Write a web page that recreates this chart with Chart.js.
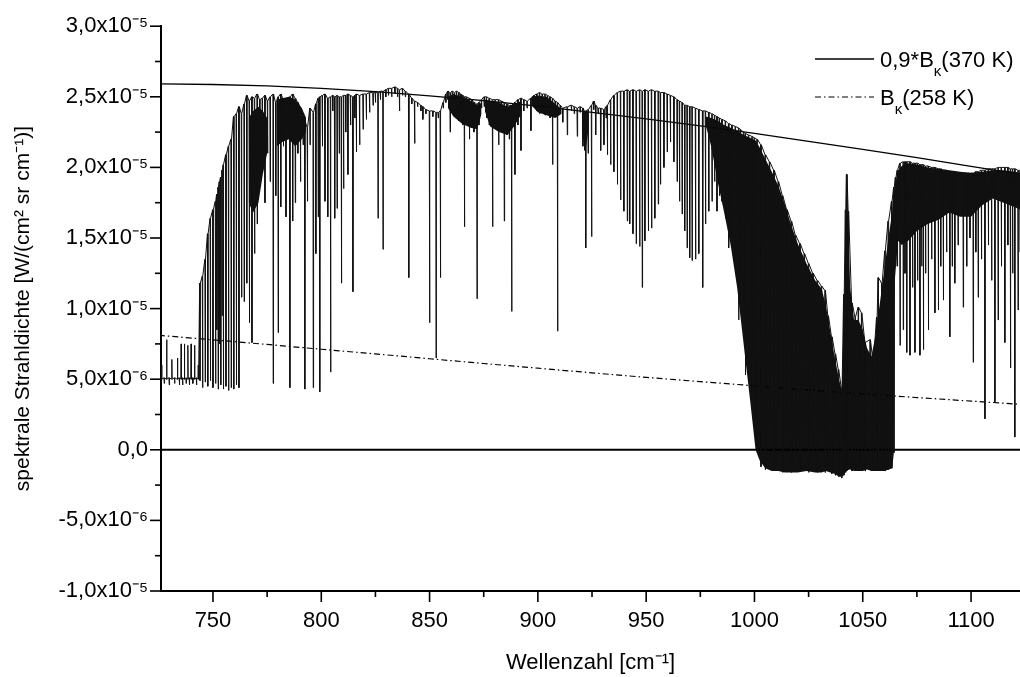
<!DOCTYPE html>
<html>
<head>
<meta charset="utf-8">
<script src="https://cdn.jsdelivr.net/npm/chart.js@4.4.1/dist/chart.umd.min.js"></script>
<style>
  html, body { margin: 0; padding: 0; background: #ffffff; }
  #wrap { width: 1020px; height: 677px; }
</style>
</head>
<body>
<div id="wrap"><canvas id="c" width="1020" height="677"></canvas></div>
<script>
// ---- values are in units of 1e-6 W/(cm² sr cm⁻¹) ----
// Axis ticks
const xTicks = [750, 775, 800, 825, 850, 875, 900, 925, 950, 975, 1000, 1025, 1050, 1075, 1100];
const xTickLabels = ['750', '', '800', '', '850', '', '900', '', '950', '', '1000', '', '1050', '', '1100'];
const yTicks = [-10, -7.5, -5, -2.5, 0, 2.5, 5, 7.5, 10, 12.5, 15, 17.5, 20, 22.5, 25, 27.5, 30];
const yTickLabels = ['-1,0x10\u207B\u2075', '', '-5,0x10\u207B\u2076', '', '0,0', '', '5,0x10\u207B\u2076', '',
  '1,0x10\u207B\u2075', '', '1,5x10\u207B\u2075', '', '2,0x10\u207B\u2075', '', '2,5x10\u207B\u2075', '', '3,0x10\u207B\u2075'];

// Reference curves
const planckNu  = [725, 750, 775, 800, 825, 850, 875, 900, 925, 950, 975, 1000, 1025, 1050, 1075, 1100, 1125];
const planck370 = [25.91, 25.87, 25.77, 25.60, 25.36, 25.07, 24.73, 24.34, 23.90, 23.44, 22.94, 22.41, 21.85, 21.28, 20.69, 20.08, 19.46];
const planck258 = [8.11, 7.79, 7.46, 7.12, 6.79, 6.45, 6.11, 5.78, 5.45, 5.13, 4.83, 4.53, 4.24, 3.96, 3.70, 3.45, 3.20];
const zeroNu = [726, 1123];
const zeroVal = [0, 0];

// Measured spectrum: each entry [wavenumber, level before/after, extreme of the line]
const specA = [[726.3,5.0,6.0],[727.5,5.1,4.7],[728.6,5.0,7.8],[729.8,5.1,4.6],[731.0,5.0,6.4],[732.3,5.1,4.7],[733.6,5.0,6.5],[734.5,5.1,4.6],[735.3,5.0,7.5],[736.0,5.1,4.6],[736.8,5.0,7.5],[737.6,5.1,4.7],[738.4,5.0,7.4],[739.1,5.1,4.6],[739.9,5.0,7.5],[740.7,5.1,4.7],[741.5,5.0,7.4],[742.4,5.1,4.6],[743.2,5.0,6.0]];
const specB = [[744.0,11.8,4.9],[745.2,12.3,4.4],[746.4,13.5,4.8],[747.6,15.3,4.5],[748.8,16.4,4.9],[750.0,17.0,4.4],[751.2,17.6,4.7],[751.8,18.1,8.5],[752.4,18.6,4.3],[753.0,19.0,7.5],[753.6,19.3,4.6],[754.2,19.8,9.5],[754.8,20.2,4.3],[756.0,20.9,4.5],[757.2,21.5,4.2],[758.4,22.0,4.4],[759.6,23.6,4.3],[760.8,23.8,4.6],[762.0,24.3,4.4],[763.2,23.8,10.8],[764.4,24.5,10.5],[765.6,25.1,11.8],[766.8,24.7,9.0],[768.0,25.0,7.6],[769.2,24.9,13.9],[770.4,25.2,16.0],[771.6,24.8,19.5],[772.8,24.9,20.5],[774.0,25.1,17.5],[775.2,24.7,21.0],[776.4,25.0,19.0],[777.8,25.2,4.7],[779.0,24.6,18.0],[780.1,25.0,8.3],[781.3,25.2,17.2],[782.5,24.8,21.5],[783.7,24.5,16.5],[785.5,25.0,4.4],[786.8,25.2,16.2],[788.0,24.9,17.5],[789.2,24.6,21.0],[790.4,24.2,19.0],[791.6,23.5,21.6],[792.4,23.3,4.3],[793.6,22.8,17.6],[794.8,24.2,21.6],[796.3,23.9,4.4],[797.5,24.5,13.9],[798.6,24.9,16.5],[799.3,25.0,4.1],[800.5,25.1,21.5],[801.7,25.2,17.6],[803.0,24.9,16.5],[804.3,25.0,5.5]];
const specC = [[805.3,25.1,24.0],[806.2,25.0,16.4],[807.3,25.1,17.1],[808.3,25.0,21.0],[809.3,25.0,11.8],[810.3,25.1,18.5],[811.3,25.1,22.5],[812.3,25.2,19.5],[813.5,25.1,23.0],[814.6,25.0,11.2],[815.5,25.1,23.5],[816.2,25.2,21.1],[817.7,25.1,21.6],[819.3,25.2,22.7],[820.8,25.2,23.4],[822.3,25.3,23.9],[823.9,25.3,24.4],[825.0,25.3,24.6],[826.2,25.3,16.4],[827.3,25.4,24.8],[828.5,25.4,14.2],[829.8,25.5,25.0],[831.0,25.6,25.1],[832.5,25.6,25.0],[834.0,25.7,25.2],[835.2,25.6,25.0],[836.1,25.5,24.0],[837.5,25.6,25.1],[838.8,25.4,25.0],[840.4,25.2,12.2],[841.8,24.9,24.5],[843.1,24.7,21.7],[844.5,24.6,24.3],[846.0,24.4,24.0],[846.9,24.3,23.4],[848.3,24.1,23.8],[850.0,24.0,9.0],[851.5,24.0,23.6],[853.0,23.9,6.5],[854.0,23.9,23.5],[855.0,24.0,12.2],[856.3,24.6,24.2],[857.5,25.2,24.6],[858.5,25.4,24.8],[859.5,25.3,22.5]];
const specD = [[860.5,25.4,24.5],[861.5,25.3,23.7],[862.5,25.4,24.0],[863.5,25.3,23.3],[864.5,25.2,23.8],[865.3,25.1,23.0],[866.1,25.0,15.8],[867.0,25.0,23.2],[868.4,24.9,22.0],[869.5,24.8,22.8],[870.5,24.6,22.5],[871.9,24.5,10.7],[872.8,24.6,23.0],[874.0,24.8,24.2],[875.2,25.0,24.3],[876.3,25.0,23.5],[877.5,24.9,23.0],[879.1,24.8,15.8],[880.3,24.8,22.8],[881.9,24.8,21.6],[883.2,24.7,22.5],[884.5,24.6,16.2],[885.7,24.5,22.3],[886.8,24.4,22.0],[887.9,24.4,9.8],[889.4,24.6,19.5],[890.8,24.8,23.0],[892.2,24.9,21.2],[893.5,24.8,24.0],[895.0,24.7,24.2],[896.8,24.9,22.6],[898.2,25.1,24.3],[899.5,25.2,24.0],[900.8,25.3,23.8],[902.0,25.2,24.2],[903.3,25.2,23.7],[904.5,25.1,24.0],[905.6,25.0,23.5],[906.8,24.9,20.2],[908.0,24.7,23.6],[909.1,24.6,8.4],[910.3,24.4,23.9],[911.5,24.2,23.2],[913.6,24.3,22.3],[915.5,24.4,24.0],[916.8,24.3,23.8],[918.2,24.2,22.2],[919.5,24.3,23.9],[920.8,24.2,21.5],[921.5,24.0,21.2],[922.1,24.0,14.3],[923.2,24.1,21.0],[924.8,24.4,15.1],[925.8,24.7,24.1],[926.7,24.4,22.3],[927.8,24.2,23.8],[929.0,24.2,21.2],[930.5,24.1,21.6],[931.5,24.3,23.5],[932.1,24.4,20.9]];
const specE = [[933.6,24.8,20.2],[935.1,25.1,19.7],[936.7,25.3,18.8],[938.2,25.4,17.7],[939.7,25.4,16.9],[941.3,25.5,16.2],[942.4,25.4,16.0],[943.9,25.5,15.3],[945.4,25.4,14.6],[947.0,25.5,14.4],[948.2,25.4,11.5],[949.4,25.5,14.8],[951.0,25.4,15.5],[952.5,25.5,15.7],[954.0,25.4,16.4],[955.6,25.4,17.4],[956.6,25.3,18.8],[958.2,25.3,20.0],[959.7,25.2,21.1],[961.2,25.1,21.8],[962.8,25.0,20.4],[964.3,24.8,19.0],[965.4,24.7,17.6],[966.6,24.6,16.7],[967.8,24.4,15.5],[968.9,24.4,14.3],[970.1,24.3,13.6],[971.2,24.3,13.4],[972.8,24.2,13.5],[974.3,24.1,13.9],[976.1,24.0,11.5],[977.4,24.0,16.0],[978.9,23.9,16.9],[980.4,23.8,17.6],[981.6,23.7,19.0],[982.7,23.6,16.9],[983.8,23.5,18.0],[985.0,23.4,17.6],[986.6,23.3,16.4],[988.1,23.1,14.3],[989.6,23.0,14.4],[991.2,22.9,13.9],[992.7,22.8,9.2],[993.5,22.7,12.5],[995.0,22.5,10.4],[995.8,22.4,5.3],[997.3,22.3,7.0],[998.9,22.2,3.9],[1000.0,22.1,2.0],[1001.2,22.0,-0.1]];
const specF = [[1003.0,21.6,-1.2],[1005.0,20.9,-1.4],[1007.0,20.4,2.0],[1009.0,19.8,-1.5],[1011.0,19.0,3.0],[1013.0,18.0,-1.6],[1015.0,17.0,1.0],[1017.0,16.2,-1.6],[1019.0,15.2,0.0],[1021.0,14.6,-1.5],[1023.0,13.9,2.0],[1025.0,13.2,-1.6],[1027.0,12.5,0.0],[1029.0,12.0,-1.6],[1031.0,11.6,1.0],[1032.6,11.3,-1.6],[1034.0,9.5,-1.5],[1035.7,8.0,-1.7],[1037.3,6.8,-1.8],[1038.8,5.7,-1.9],[1040.3,4.3,-2.0],[1041.3,11.0,-1.8],[1042.1,17.0,-1.6],[1042.6,19.5,-1.5],[1043.4,16.9,-1.4],[1045.0,10.4,-1.5],[1046.5,9.4,-1.4],[1048.0,10.1,-1.5],[1049.5,9.7,-1.4],[1051.1,7.6,-1.5],[1053.4,7.8,-1.4],[1054.9,6.2,-1.5],[1056.5,9.4,-1.4],[1057.2,12.2,-1.5],[1058.8,11.8,-1.4],[1060.3,14.1,-1.5],[1061.8,16.2,-1.4],[1063.4,17.6,-1.3],[1064.4,18.6,-0.2],[1065.2,19.3,13.0]];
const specG = [[1066.0,19.8,13.0],[1067.2,20.3,7.4],[1068.7,20.4,8.5],[1069.5,20.4,12.5],[1070.3,20.4,6.9],[1071.8,20.4,6.7],[1073.0,20.3,11.5],[1074.1,20.3,6.9],[1075.3,20.3,12.0],[1076.4,20.2,6.7],[1077.2,20.2,13.0],[1078.0,20.2,7.1],[1079.0,20.1,12.5],[1080.3,20.1,8.5],[1081.8,20.0,13.5],[1083.3,20.0,9.7],[1084.9,19.9,9.9],[1086.0,19.9,13.0],[1087.2,19.8,10.6],[1088.7,19.8,14.0],[1090.2,19.7,8.0],[1091.3,19.7,13.0],[1092.5,19.7,11.8],[1094.0,19.6,14.5],[1096.4,19.6,10.1],[1098.0,19.6,13.0],[1099.5,19.6,15.0],[1101.0,19.6,6.2],[1102.2,19.7,14.0],[1103.3,19.7,10.8],[1104.8,19.8,13.5],[1106.4,19.8,2.2],[1108.0,19.9,14.5],[1109.5,19.9,12.0],[1111.0,19.9,3.4],[1112.5,20.0,9.2],[1114.0,20.0,13.0],[1115.6,20.0,7.6],[1117.0,20.0,14.5],[1118.2,19.9,5.8],[1119.2,19.9,12.5],[1120.2,19.9,0.9],[1121.7,19.8,9.9],[1122.6,19.8,14.0]];

// Regions where the densely packed lines merge into solid black: [wavenumber, upper, lower]
const bandB1 = [[766.5,23.5,17.5],[768.5,24.0,16.8],[771.0,24.3,17.5],[773.0,24.0,19.5],[775.0,23.5,21.0]];
const bandB2 = [[779.5,24.8,21.5],[782.0,24.9,21.8],[785.0,25.0,22.0],[788.0,24.8,21.5],[791.0,24.2,22.0],[793.0,23.5,22.5]];
const bandD1 = [[858.5,25.0,24.2],[861.0,25.2,23.6],[865.0,25.0,23.1],[869.0,24.7,22.8],[872.0,24.4,22.7],[874.0,24.6,23.8]];
const bandD2 = [[875.5,24.8,24.0],[878.0,24.7,22.9],[882.0,24.6,22.5],[886.0,24.3,22.3],[889.0,24.5,22.9],[892.5,24.7,23.8]];
const bandD3 = [[897.0,25.0,24.4],[900.0,25.1,23.9],[904.0,25.0,23.7],[908.0,24.5,23.5],[911.0,24.1,23.8]];
const bandD4 = [[920.3,24.1,22.5],[922.0,23.9,21.2],[923.5,24.0,22.8]];
const bandF = [[977.5,23.6,23.0],[980,23.5,21.5],[983,23.3,19.0],[986,23.0,16.8],[989,22.8,14.5],[992,22.6,11.5],[995,22.3,7.5],[998,22.1,3.5],[1000.5,21.9,0.0],[1002.5,21.4,-0.8],[1005,20.6,-1.3],[1008,19.7,-1.5],[1011,18.7,-1.5],[1014,17.4,-1.6],[1017,15.9,-1.6],[1020,14.6,-1.6],[1024,13.2,-1.5],[1028,12.0,-1.6],[1031,11.4,-1.6],[1033,10.2,-1.5],[1035,8.4,-1.6],[1037,6.6,-1.7],[1039,5.0,-1.9],[1040.3,4.2,-1.9],[1041.2,9.0,-1.8],[1042.0,15.5,-1.6],[1042.6,19.0,-1.5],[1043.3,16.0,-1.4],[1044.2,11.5,-1.4],[1046,9.2,-1.5],[1048,9.2,-1.5],[1050,8.5,-1.5],[1052,7.2,-1.4],[1054,6.6,-1.5],[1056,8.2,-1.5],[1058,10.5,-1.5],[1060,12.8,-1.5],[1062,15.2,-1.4],[1063.6,16.8,-1.3],[1064.3,17.8,-0.3],[1064.8,18.6,12.0],[1066.3,19.8,14.8],[1068,20.1,14.5],[1071,20.3,14.8],[1075,20.2,15.5],[1080,20.0,16.0],[1085,19.9,16.3],[1090,19.8,16.8],[1095,19.7,16.5],[1100,19.6,16.5],[1105,19.7,17.3],[1110,19.8,17.8],[1115,19.8,17.5],[1120,19.7,17.2],[1123,19.6,17.0]];

const seriesLabels = ['0,9*B\u03BA(370 K)', 'B\u03BA(258 K)'];

// ---- build datasets ----
const HALF = 0.15; // half width of a drawn absorption line (drawing only)
const spectrumPoints = [].concat(specA, specB, specC, specD, specE, specF, specG)
  .flatMap(([nu, a, b]) => [{x: nu - HALF, y: a}, {x: nu, y: b}, {x: nu + HALF, y: a}]);

const datasets = [
  { label: 'Spektrum', data: spectrumPoints, borderColor: '#111', borderWidth: 1, pointRadius: 0, fill: false },
  { label: seriesLabels[0], data: planckNu.map((x, i) => ({x, y: planck370[i]})), borderColor: '#000', borderWidth: 1.3, pointRadius: 0, fill: false },
  { label: seriesLabels[1], data: planckNu.map((x, i) => ({x, y: planck258[i]})), borderColor: '#000', borderWidth: 1.2, borderDash: [6, 3, 1.5, 3], pointRadius: 0, fill: false },
  { label: 'null', data: zeroNu.map((x, i) => ({x, y: zeroVal[i]})), borderColor: '#000', borderWidth: 2, pointRadius: 0, fill: false }
];
[bandB1, bandB2, bandD1, bandD2, bandD3, bandD4, bandF].forEach(band => {
  datasets.push({ label: 'band', data: band.map(p => ({x: p[0], y: p[1]})), borderWidth: 0, borderColor: 'rgba(0,0,0,0)', backgroundColor: '#111', pointRadius: 0, fill: '+1' });
  datasets.push({ label: 'band', data: band.map(p => ({x: p[0], y: p[2]})), borderWidth: 0, borderColor: 'rgba(0,0,0,0)', pointRadius: 0, fill: false });
});

const FONT = '"Liberation Sans", Arial, Helvetica, sans-serif';

const tickMarks = {
  id: 'tickMarks',
  afterDraw(chart) {
    const {ctx, chartArea: a, scales: {x, y}} = chart;
    ctx.save();
    ctx.strokeStyle = '#000';
    ctx.lineWidth = 1.6;
    xTicks.forEach((v, i) => {
      const px = x.getPixelForValue(v);
      const len = xTickLabels[i] ? 11 : 6;
      ctx.beginPath(); ctx.moveTo(px, a.bottom); ctx.lineTo(px, a.bottom + len); ctx.stroke();
    });
    yTicks.forEach((v, i) => {
      const py = y.getPixelForValue(v);
      const len = yTickLabels[i] ? 11 : 6;
      ctx.beginPath(); ctx.moveTo(a.left, py); ctx.lineTo(a.left - len, py); ctx.stroke();
    });
    ctx.restore();
  }
};

const legendItems = [
  { main: '0,9*B', sub: '\u03BA', tail: '(370 K)', dash: [], width: 1.3 },
  { main: 'B', sub: '\u03BA', tail: '(258 K)', dash: [6, 3, 1.5, 3], width: 1.2 }
];
const customLegend = {
  id: 'customLegend',
  afterDraw(chart) {
    const ctx = chart.ctx;
    ctx.save();
    ctx.fillStyle = '#000';
    ctx.strokeStyle = '#000';
    ctx.textBaseline = 'alphabetic';
    legendItems.forEach((it, i) => {
      const yMid = 59 + i * 38;
      ctx.setLineDash(it.dash);
      ctx.lineWidth = it.width;
      ctx.beginPath(); ctx.moveTo(815, yMid); ctx.lineTo(874, yMid); ctx.stroke();
      ctx.setLineDash([]);
      let xx = 880;
      const base = yMid + 8;
      ctx.font = '22px ' + FONT;
      ctx.fillText(it.main, xx, base);
      xx += ctx.measureText(it.main).width;
      ctx.font = '15px ' + FONT;
      ctx.fillText(it.sub, xx, base + 9);
      xx += ctx.measureText(it.sub).width;
      ctx.font = '22px ' + FONT;
      ctx.fillText(it.tail, xx, base);
    });
    ctx.restore();
  }
};

new Chart(document.getElementById('c'), {
  type: 'line',
  data: { datasets },
  options: {
    responsive: false,
    animation: false,
    devicePixelRatio: 1,
    events: [],
    layout: { padding: { top: 19, right: 0, bottom: 0, left: 0 } },
    plugins: {
      legend: { display: false },
      tooltip: { enabled: false },
      filler: { propagate: false }
    },
    elements: { line: { tension: 0 } },
    scales: {
      x: {
        type: 'linear',
        min: 726,
        max: 1122.6,
        afterBuildTicks: s => { s.ticks = xTicks.map(v => ({value: v})); },
        afterFit: s => { s.height = 86; },
        grid: { display: true, drawOnChartArea: false, drawTicks: false, color: 'rgba(0,0,0,0)' },
        border: { display: true, color: '#000', width: 2 },
        ticks: {
          autoSkip: false, maxRotation: 0, padding: 17, color: '#000',
          font: { family: FONT, size: 22 },
          callback: (v, i) => xTickLabels[i]
        },
        title: {
          display: true, text: 'Wellenzahl [cm\u207B\u00B9]', color: '#000',
          font: { family: FONT, size: 22 }, padding: { top: 0, bottom: 1 }
        }
      },
      y: {
        type: 'linear',
        min: -10,
        max: 30,
        afterBuildTicks: s => { s.ticks = yTicks.map(v => ({value: v})); },
        afterFit: s => { s.width = 161; },
        grid: { display: true, drawOnChartArea: false, drawTicks: false, color: 'rgba(0,0,0,0)' },
        border: { display: true, color: '#000', width: 2 },
        ticks: {
          autoSkip: false, padding: 13, color: '#000',
          font: { family: FONT, size: 22 },
          callback: (v, i) => yTickLabels[i]
        },
        title: {
          display: true, text: 'spektrale Strahldichte [W/(cm\u00B2 sr cm\u207B\u00B9)]', color: '#000',
          font: { family: FONT, size: 21 }, padding: { top: 11, bottom: 0 }
        }
      }
    }
  },
  plugins: [tickMarks, customLegend]
});
</script>
</body>
</html>
